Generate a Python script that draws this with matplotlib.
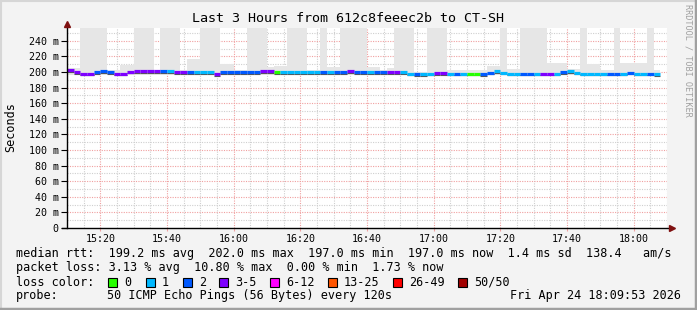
import matplotlib
matplotlib.use("Agg")
import matplotlib.pyplot as plt
from matplotlib.patches import Rectangle
from matplotlib.lines import Line2D

# one sample every 2 minutes, starting 15:10
median_ms = [202, 200, 198, 198, 200, 201, 200, 198, 198, 200.5,
             201, 201, 201, 201, 201, 201, 200, 200, 200, 200,
             200, 200, 197.5, 200, 200, 200, 200, 200, 200, 201,
             201, 200, 200, 200, 200, 200, 200, 200, 200, 200,
             200, 200, 201, 200, 200, 200, 200, 200, 200, 200,
             200, 198, 197, 197.5, 198, 198.5, 198.5, 198, 198, 198,
             198, 198, 197, 199, 201, 199, 198, 198, 198, 198,
             198, 198, 198, 198, 200, 201, 199, 198, 198, 198,
             198, 198, 198, 198, 199, 198, 198, 198, 197]
# loss class index into loss_colors
loss_class = [3, 3, 3, 3, 2, 2, 2, 3, 3, 3,
              3, 3, 3, 3, 2, 1, 3, 3, 2, 1,
              1, 1, 3, 2, 2, 2, 2, 2, 2, 3,
              3, 0, 1, 1, 1, 1, 1, 1, 2, 1,
              2, 2, 3, 2, 2, 1, 2, 2, 3, 3,
              1, 1, 2, 1, 1, 3, 3, 1, 2, 1,
              0, 0, 2, 2, 1, 1, 1, 1, 2, 2,
              1, 3, 3, 1, 2, 1, 1, 1, 1, 1,
              1, 2, 2, 1, 2, 1, 1, 2, 1]
# highest ping of each sample (300 = off the chart)
smoke_top = [205, 205, 300, 300, 300, 300, 203, 203, 209, 209,
             300, 300, 300, 201, 300, 300, 300, 203, 217, 217,
             300, 300, 300, 210, 210, 202, 202, 300, 300, 300,
             207, 208, 208, 300, 300, 300, 202, 202, 300, 207,
             207, 300, 300, 300, 300, 207, 207, 202, 205, 300,
             300, 300, 200, 200, 300, 300, 300, 202, 202, 202,
             202, 202, 202, 208, 208, 300, 204, 204, 300, 300,
             300, 300, 212, 212, 212, 204, 204, 300, 210, 210,
             203, 203, 300, 212, 212, 212, 212, 300, 203]

loss_labels = ["0", "1", "2", "3-5", "6-12", "13-25", "26-49", "50/50"]
loss_colors = ["#26ff00", "#00b8ff", "#0059ff", "#7e00ff",
               "#ff00ff", "#ff5500", "#ff0000", "#a10000"]

tick_labels = ["15:20", "15:40", "16:00", "16:20", "16:40",
               "17:00", "17:20", "17:40", "18:00"]
y_ticks = [0, 20, 40, 60, 80, 100, 120, 140, 160, 180, 200, 220, 240]

W, H = 697, 310
fig = plt.figure(figsize=(W / 100, H / 100), dpi=100, facecolor="#f3f3f3")
ax = fig.add_axes([67 / W, (H - 228) / H, 600 / W, 200.5 / H])
ax.set_facecolor("white")
ax.set_xlim(0, 180)
ax.set_ylim(0, 257)

mono = "DejaVu Sans Mono"

# grid
for m in range(0, 181, 5):
    major = (m - 10) % 20 == 0
    ax.axvline(m, color="#f0a0a0" if major else "#cfcfcf", lw=0.8,
               ls=(0, (1, 1.2)), zorder=0)
for v in range(10, 257, 10):
    major = v % 20 == 0
    ax.axhline(v, color="#f0a0a0" if major else "#cfcfcf", lw=0.8,
               ls=(0, (1, 1.2)), zorder=0)

# smoke
xs = [2 * i for i in range(len(median_ms))]
ax.bar(xs, [t - 196 for t in smoke_top], bottom=196, width=2, align="edge",
       color="#e6e6e6", linewidth=0, zorder=1)

# dark core and median coloured by loss
ax.hlines([m - 2.2 for m in median_ms], xs, [x + 2 for x in xs],
          colors="#555555", lw=0.8, zorder=2)
ax.hlines(median_ms, xs, [x + 2 for x in xs],
          colors=[loss_colors[c] for c in loss_class], lw=2.3, zorder=3)

for s in ax.spines.values():
    s.set_visible(False)

ax.set_xticks(range(10, 180, 20))
ax.set_xticklabels(tick_labels, fontfamily=mono, fontsize=7.2)
ax.tick_params(axis="x", length=2.5, color="#f0a0a0", pad=1.5)
ax.set_yticks(y_ticks)
ax.set_yticklabels(["0"] + ["%d m" % v for v in y_ticks[1:]],
                   fontfamily=mono, fontsize=7.2)
ax.tick_params(axis="y", length=4, color="black", pad=2)

# axis lines with arrows
ax.add_line(Line2D([-5 / 600, 601 / 600], [0, 0], transform=ax.transAxes,
                   color="black", lw=1, clip_on=False, zorder=5))
ax.add_line(Line2D([0, 0], [0, 1], transform=ax.transAxes,
                   color="black", lw=1, clip_on=False, zorder=5))
ax.plot([1.008], [0], marker=">", ms=4.5, color="#7f1010",
        transform=ax.transAxes, clip_on=False, zorder=6)
ax.plot([0], [1.015], marker="^", ms=4.5, color="#7f1010",
        transform=ax.transAxes, clip_on=False, zorder=6)


def ftext(x, y, s, **kw):
    kw.setdefault("fontfamily", mono)
    kw.setdefault("fontsize", 8.5)
    kw.setdefault("va", "center")
    fig.text(x / W, 1 - y / H, s, **kw)


ftext(348, 19, "Last 3 Hours from 612c8feeec2b to CT-SH", ha="center",
      fontsize=9.6)
ftext(11, 127, "Seconds", ha="center", rotation=90)
ftext(688, 60, "RRDTOOL / TOBI OETIKER", ha="center", rotation=270,
      fontsize=6.1, color="#a0a0a0")

ftext(16, 254, "median rtt:  199.2 ms avg  202.0 ms max  197.0 ms min  "
      "197.0 ms now  1.4 ms sd  138.4   am/s")
ftext(16, 268, "packet loss: 3.13 % avg  10.80 % max  0.00 % min  1.73 % now")
ftext(16, 282, "loss color:")
box_x = [108, 146, 183, 219, 270, 328, 393, 458]
for bx, lab, col in zip(box_x, loss_labels, loss_colors):
    fig.add_artist(Rectangle((bx / W, 1 - 286.5 / H), 9 / W, 9 / H,
                             transform=fig.transFigure, facecolor=col,
                             edgecolor="black", lw=0.8))
    ftext(bx + 16, 282, lab)
ftext(16, 296, "probe:")
ftext(107, 296, "50 ICMP Echo Pings (56 Bytes) every 120s")
ftext(681, 296, "Fri Apr 24 18:09:53 2026", ha="right")

# 3d frame
fig.add_artist(Line2D([0, 1], [1 - 1 / H, 1 - 1 / H], transform=fig.transFigure,
                      color="#d6d6d6", lw=1.5))
fig.add_artist(Line2D([1 / W, 1 / W], [0, 1], transform=fig.transFigure,
                      color="#d6d6d6", lw=1.5))
fig.add_artist(Line2D([0, 1], [1.5 / H, 1.5 / H], transform=fig.transFigure,
                      color="#a0a0a0", lw=2.5))
fig.add_artist(Line2D([1 - 1.5 / W, 1 - 1.5 / W], [0, 1],
                      transform=fig.transFigure, color="#a0a0a0", lw=2.5))

fig.savefig("out.png", dpi=100, facecolor=fig.get_facecolor())
